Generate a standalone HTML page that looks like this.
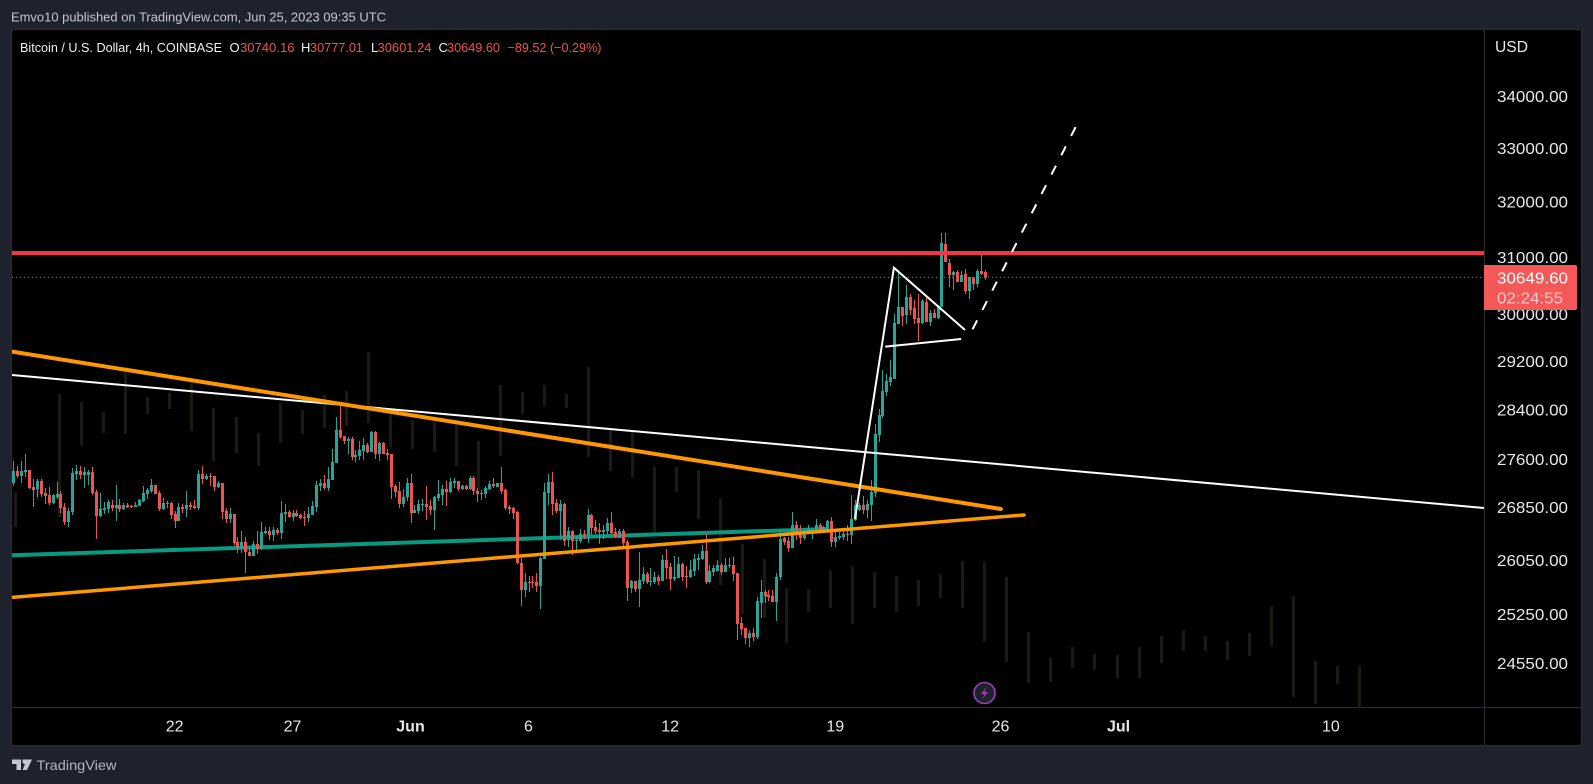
<!DOCTYPE html>
<html lang="en">
<head>
<meta charset="utf-8">
<title>BTCUSD chart</title>
<style>
html,body{margin:0;padding:0;background:#1e222d;width:1593px;height:784px;overflow:hidden}
svg{display:block}
text{font-family:"Liberation Sans",sans-serif}
</style>
</head>
<body>
<svg id="chart" xmlns="http://www.w3.org/2000/svg" width="1593" height="784" viewBox="0 0 1593 784">
  <defs><clipPath id="pane-clip"><rect x="12" y="30" width="1472" height="677"/></clipPath></defs>
  <rect x="0" y="0" width="1593" height="784" fill="#1e222d"/>
  <text x="11" y="21.5" font-size="12.5" fill="#c4c7cf" textLength="375" lengthAdjust="spacingAndGlyphs">Emvo10 published on TradingView.com, Jun 25, 2023 09:35 UTC</text>
  <rect x="11.5" y="29.5" width="1570" height="716" fill="#000" stroke="#2a2e39"/>
  <g id="pane" clip-path="url(#pane-clip)"></g>
  <line x1="1484.5" y1="30" x2="1484.5" y2="745" stroke="#2a2e39"/>
  <line x1="12" y1="707.5" x2="1581" y2="707.5" stroke="#2a2e39"/>
  <g id="legend" font-size="13" fill="#ef5350">
    <text x="20" y="52" fill="#f0f0f0" textLength="202" lengthAdjust="spacingAndGlyphs">Bitcoin / U.S. Dollar, 4h, COINBASE</text>
    <text x="229.5" y="52" fill="#f0f0f0">O</text>
    <text x="240" y="52" textLength="54.5" lengthAdjust="spacingAndGlyphs">30740.16</text>
    <text x="301" y="52" fill="#f0f0f0">H</text>
    <text x="310" y="52" textLength="53" lengthAdjust="spacingAndGlyphs">30777.01</text>
    <text x="371" y="52" fill="#f0f0f0">L</text>
    <text x="377.5" y="52" textLength="54" lengthAdjust="spacingAndGlyphs">30601.24</text>
    <text x="438.5" y="52" fill="#f0f0f0">C</text>
    <text x="447" y="52" textLength="53" lengthAdjust="spacingAndGlyphs">30649.60</text>
    <text x="507.5" y="52" textLength="94" lengthAdjust="spacingAndGlyphs">−89.52 (−0.29%)</text>
  </g>
  <text x="1495" y="52" font-size="16" fill="#e8e8e8" textLength="33" lengthAdjust="spacingAndGlyphs">USD</text>
  <g id="price-axis"></g>
  <g id="time-axis"></g>
  <g>
    <path d="M1484 265H1575a2 2 0 0 1 2 2V308a2 2 0 0 1-2 2H1484Z" fill="#f45858"/>
    <text x="1497" y="283.5" font-size="16" fill="#fff" textLength="71" lengthAdjust="spacingAndGlyphs">30649.60</text>
    <text x="1497" y="303.5" font-size="16" fill="#ffc9c9" textLength="66" lengthAdjust="spacingAndGlyphs">02:24:55</text>
  </g>
  <g>
    <circle cx="984.5" cy="693" r="10.5" fill="#1e222d" stroke="#a43bb8" stroke-width="1.6"/>
    <path d="M986.5 687L981 694H984.5L982.5 699L988 692H984.5Z" fill="#a43bb8"/>
  </g>
  <g>
    <path d="M12 759.5H21V770H16.5V764H12ZM22.5 759.5H32L27 770H22.5L25 764A2.3 2.3 0 0 1 22.5 761.5Z" fill="#c4c7cf"/>
    <text x="36.5" y="770" font-size="14" fill="#b2b5be" textLength="80" lengthAdjust="spacingAndGlyphs">TradingView</text>
  </g>
</svg>
<script>
const open=[27237,27427,27348,27411,27443,27174,27142,27269,27079,27047,
26921,27015,27063,26860,26630,26783,27380,27427,27364,27364,
27411,27094,26722,26814,26829,26890,26845,26890,26829,26890,
26875,26860,26875,26952,27063,27110,27205,27079,26829,26921,
26921,26753,26646,26860,26829,26890,26875,26845,27380,27300,
27348,27348,27174,27237,26799,26676,26753,26325,26233,26325,
26172,26110,26294,26218,26462,26493,26432,26508,26462,26753,
26783,26707,26768,26737,26707,26691,26737,26860,27190,27237,
27158,27285,27538,28077,27982,27902,27934,27633,27649,27744,
27839,27728,28045,27681,27871,27712,27681,27190,27110,26906,
27015,27237,26768,26799,26890,26906,26875,26814,26999,27047,
27142,27094,27237,27269,27142,27190,27142,27316,27110,27079,
27063,27142,27221,27174,27237,27126,26860,26845,26783,26003,
25605,25728,25728,25728,25667,26064,27079,27253,26921,26799,
26906,26355,26493,26340,26340,26447,26432,26737,26554,26508,
26477,26493,26615,26477,26386,26493,26325,25636,25743,25620,
25743,25850,25728,25728,25804,25743,26049,25942,25774,25789,
25988,25820,25804,25896,26049,26064,26187,25728,25881,25896,
25973,25881,25957,25973,25866,25127,25055,24911,24983,24925,
25417,25578,25534,25520,25432,25800,26384,26339,26233,26583,
26430,26384,26476,26476,26506,26583,26506,26506,26644,26324,
26384,26400,26445,26430,26659,26813,26890,26813,26890,27076,
27994,28300,28693,28859,28908,29837,30129,29991,30302,30112,
29939,29853,30215,29871,30025,29939,30129,31238,30900,30688,
30740,30565,30705,30407,30635,30530,30758,30740];
const close=[27427,27348,27427,27443,27158,27126,27269,27063,27031,26921,
27047,27063,26845,26630,26799,27395,27427,27364,27411,27411,
27079,26722,26829,26845,26936,26845,26890,26829,26890,26860,
26860,26890,26968,27079,27126,27205,27063,26829,26921,26906,
26737,26646,26860,26829,26890,26860,26845,27380,27300,27348,
27332,27174,27237,26783,26676,26753,26309,26233,26325,26172,
26110,26294,26218,26477,26493,26432,26508,26462,26768,26783,
26707,26768,26722,26691,26697,26753,26875,27205,27237,27158,
27300,27554,28077,27966,27902,27934,27633,27665,27760,27839,
27728,28045,27681,27871,27696,27665,27174,27094,26906,27015,
27237,26768,26814,26906,26906,26860,26814,27015,27063,27142,
27094,27253,27269,27142,27190,27142,27316,27110,27063,27063,
27158,27221,27190,27237,27110,26845,26829,26768,26003,25605,
25728,25713,25713,25667,26080,27094,27253,26906,26799,26906,
26340,26493,26340,26355,26447,26432,26737,26539,26493,26477,
26508,26615,26462,26401,26493,26309,25636,25743,25620,25759,
25850,25728,25743,25804,25743,26049,25927,25774,25804,25988,
25804,25804,25911,26064,26080,26187,25728,25896,25927,25973,
25881,25973,25973,25850,25113,25040,24911,24983,24925,25446,
25578,25520,25505,25432,25800,26369,26324,26233,26583,26476,
26384,26430,26537,26506,26583,26506,26552,26644,26324,26400,
26415,26445,26430,26675,26890,26890,26813,26905,27092,28010,
28316,28710,28875,28941,29853,30129,29974,30302,30077,29922,
29853,30232,29871,30025,29939,30129,31257,30917,30688,30740,
30565,30688,30407,30653,30530,30758,30705,30650];
const high=[27570,27506,27570,27696,27443,27300,27300,27300,27158,27174,
27063,27253,27110,26915,26845,27459,27522,27506,27490,27443,
27490,27126,27079,26936,26968,26968,27205,26984,26921,26921,
26890,26936,26984,27190,27158,27300,27205,27110,26999,26952,
26936,26799,26921,26906,27110,26936,26968,27443,27506,27380,
27395,27348,27269,27237,26845,26845,26753,26401,26493,26401,
26233,26340,26493,26630,26554,26554,26554,26539,26952,26906,
26814,26814,26814,26753,26799,26860,26952,27269,27300,27364,
27475,27776,28283,28457,27982,27966,27966,27760,27902,27950,
27871,28061,28061,27887,27887,27776,27681,27221,27253,27142,
27316,27380,26890,26968,26984,27190,26968,27031,27285,27205,
27269,27316,27316,27269,27205,27205,27348,27348,27158,27126,
27190,27269,27316,27237,27475,27142,26890,26860,26799,26080,
25866,25820,25820,25866,26095,27237,27380,27411,26984,26968,
26921,26554,26508,26416,26523,26508,26829,26753,26661,26615,
26584,26691,26783,26539,26523,26523,26355,25759,25743,26172,
25942,25881,25927,25881,25835,26126,26217,26003,26110,26095,
26003,25957,26049,26141,26141,26279,26447,25973,25973,26049,
26003,26080,26080,26095,25866,25213,25055,25026,25055,25505,
25755,25608,25608,25608,25859,26476,26400,26400,26782,26644,
26583,26537,26583,26537,26675,26613,26567,26659,26705,26506,
26476,26491,26583,27045,26967,26921,27029,26967,27279,28170,
28414,29058,28991,29226,30008,30776,30129,30512,30355,30250,
30355,30267,30285,30077,30094,30163,31437,31437,30971,30758,
30776,30758,30794,30653,30653,30794,31096,30777];
const low=[27190,27311,27237,27332,27142,26860,27015,27015,26906,26890,
26906,26984,26768,26584,26554,26737,27285,27300,27158,27205,
27047,26370,26707,26753,26768,26799,26646,26783,26814,26845,
26845,26860,26875,26936,26984,27079,27063,26799,26814,26845,
26676,26539,26646,26768,26707,26814,26829,26814,27221,27285,
27190,27110,27158,26676,26615,26615,26279,26156,26156,25866,
26110,26110,26141,26202,26447,26355,26340,26432,26370,26630,
26707,26646,26707,26676,26569,26630,26737,26783,27110,27126,
27110,27285,27538,27934,27855,27696,27601,27554,27586,27601,
27712,27728,27617,27570,27681,27586,26984,27015,26845,26860,
26952,26615,26768,26753,26799,26661,26737,26508,26952,26890,
26875,27079,27158,27110,27126,27126,27126,27047,26936,26968,
26999,27126,27158,27174,27063,26814,26753,26676,25988,25376,
25498,25575,25636,25575,25330,26064,26890,26737,26768,26355,
26263,26248,26126,26202,26309,26370,26309,26432,26447,26294,
26370,26447,26447,26386,26386,26248,25453,25560,25575,25361,
25697,25697,25667,25697,25682,25743,25774,25605,25743,25789,
25743,25636,25789,25820,25911,26049,25697,25713,25820,25896,
25835,25881,25927,25743,24882,24954,24830,24782,24868,24896,
25199,25417,25446,25432,25156,25755,26279,26173,26233,26354,
26294,26354,26460,26369,26476,26476,26476,26476,26248,26248,
26354,26354,26339,26294,26644,26798,26751,26690,26644,27014,
27881,28268,28628,28792,28908,29837,29802,29837,29991,29837,
29546,29837,29871,29802,29939,29922,30129,30917,30477,30424,
30565,30565,30355,30267,30424,30477,30688,30601];
const ghostHigh=[27092,27295,28660,28529,28365,29108,28611,28677,28859,28431,
28284,28026,28513,28398,28644,28710,29360,28333,28235,28203,
28235,27897,28809,28693,28809,28660,29108,28074,28074,27483,
27483,27436,26982,26294,26068,25637,25622,25889,25964,25874,
25814,25755,25844,26038,26023,25800,24997,24628,24782,24684,
24670,24782,24940,25026,24940,24868,24983,25373,25520,24584,
24514,24514];
const ghostLow=[26552,26967,26705,27833,28026,28010,28333,28414,28058,27578,
27705,27499,27865,28010,28106,28138,28187,27801,27769,27721,
27499,27123,27658,28333,28464,28431,27642,27420,27326,26415,
27092,26674,25681,25257,25199,24840,25286,25344,25113,25344,
25286,25373,25490,25344,24854,24570,24276,24290,24486,24472,
24346,24346,24556,24726,24726,24598,24656,24797,24083,23987,
24262,23946];
const priceTicks=[34000,33000,32000,31000,30000,29200,28400,27600,26850,26050,25250,24550];
const timeTickLabels=['22','27','Jun','6','12','19','26','Jul','10'];
const timeTickIndex=[41,71,101,131,167,209,251,281,335];
const tealLineIndex=[-0.33,207.2];
const tealLinePrice=[26124,26522];
const orangeUpperIndex=[-0.33,251.1];
const orangeUpperPrice=[29365,26828];
const orangeLowerIndex=[-0.33,257];
const orangeLowerPrice=[25499,26736];
const whiteLongIndex=[-0.33,373.9];
const whiteLongPrice=[28974,26843];
const flagPoleIndex=[214,223.9,241.99];
const flagPolePrice=[26674,30816,29733];
const flagBaseIndex=[221.7,241];
const flagBasePrice=[29449,29579];
const projectionIndex=[243.9,270.5];
const projectionPrice=[29745,33467];
const resistancePrice=31077;
const lastPrice=30649.6;

const X0=13.3,BAR=3.933,Y0=96.5,YK=1741,REF=34000,GHOST_START=0.5,GHOST_STEP=5.6;
function xOf(i){return X0+BAR*i;}
function yOf(p){return Y0+(Math.log(REF)-Math.log(p))*YK;}
const NS='http://www.w3.org/2000/svg';
function mk(parent,tag,attrs){
  const el=document.createElementNS(NS,tag);
  for(const k in attrs){el.setAttribute(k,attrs[k]);}
  parent.appendChild(el);
  return el;
}
function line(idx,prices,color,width,extra){
  const pts=idx.map(function(v,j){return xOf(v).toFixed(2)+','+yOf(prices[j]).toFixed(2);}).join(' ');
  const attrs={points:pts,fill:'none',stroke:color,'stroke-width':width};
  for(const k in (extra||{})){attrs[k]=extra[k];}
  return mk(pane,'polyline',attrs);
}
const pane=document.getElementById('pane');

ghostHigh.forEach(function(h,g){
  const cx=Math.round(xOf(GHOST_START+GHOST_STEP*g));
  const top=Math.round(yOf(h));
  const bot=Math.round(yOf(ghostLow[g]));
  const r=mk(pane,'rect',{x:cx-1,y:top,width:3,height:bot-top,fill:'#1b1b16','shape-rendering':'crispEdges'});
  
  
});

const teal=line(tealLineIndex,tealLinePrice,'#089981',4);



open.forEach(function(o,i){
  const c=close[i];
  const color=c>=o?'#26a69a':'#ef5350';
  const cx=Math.round(xOf(i));
  const top=Math.round(yOf(Math.max(o,c)));
  const bot=Math.round(yOf(Math.min(o,c)));
  const hy=Math.round(yOf(high[i]));
  const ly=Math.round(yOf(low[i]));
  const w=mk(pane,'rect',{x:cx,y:hy,width:1,height:Math.max(1,ly-hy),fill:color,'shape-rendering':'crispEdges'});
  
  
  const b=mk(pane,'rect',{x:cx-1,y:top,width:3,height:Math.max(1,bot-top),fill:color,'shape-rendering':'crispEdges'});
  
  
});

const dotted=mk(pane,'line',{x1:12,x2:1484,y1:Math.round(yOf(lastPrice))+0.5,y2:Math.round(yOf(lastPrice))+0.5,stroke:'#f7525f','stroke-width':1,'stroke-dasharray':'1 3','stroke-opacity':0.8});



const whiteLong=line(whiteLongIndex,whiteLongPrice,'#ffffff',2);



const orangeUp=line(orangeUpperIndex,orangeUpperPrice,'#ff9800',4,{'stroke-linecap':'round'});



const orangeLow=line(orangeLowerIndex,orangeLowerPrice,'#ff9800',3.5,{'stroke-linecap':'round'});



const red=mk(pane,'line',{x1:12,x2:1484,y1:yOf(resistancePrice),y2:yOf(resistancePrice),stroke:'#f23645','stroke-width':4});



const flagPole=line(flagPoleIndex,flagPolePrice,'#ffffff',2);



const flagBase=line(flagBaseIndex,flagBasePrice,'#ffffff',2);



const proj=line(projectionIndex,projectionPrice,'#ffffff',2,{'stroke-dasharray':'10 11.7'});



const priceAxis=document.getElementById('price-axis');
priceTicks.forEach(function(p){
  const t=mk(priceAxis,'text',{x:1497,y:(yOf(p)+5.6).toFixed(1),'font-size':16,fill:'#e8e8e8',textLength:71,lengthAdjust:'spacingAndGlyphs'});
  t.textContent=p.toFixed(2);
  
  
});

const timeAxis=document.getElementById('time-axis');
timeTickLabels.forEach(function(label,k){
  const isMonth=/[A-Za-z]/.test(label);
  const t=mk(timeAxis,'text',{x:xOf(timeTickIndex[k]).toFixed(1),y:731.5,'font-size':16,fill:'#e8e8e8','text-anchor':'middle','font-weight':isMonth?'bold':'normal'});
  t.textContent=label;
  
  
});
</script>
</body>
</html>
